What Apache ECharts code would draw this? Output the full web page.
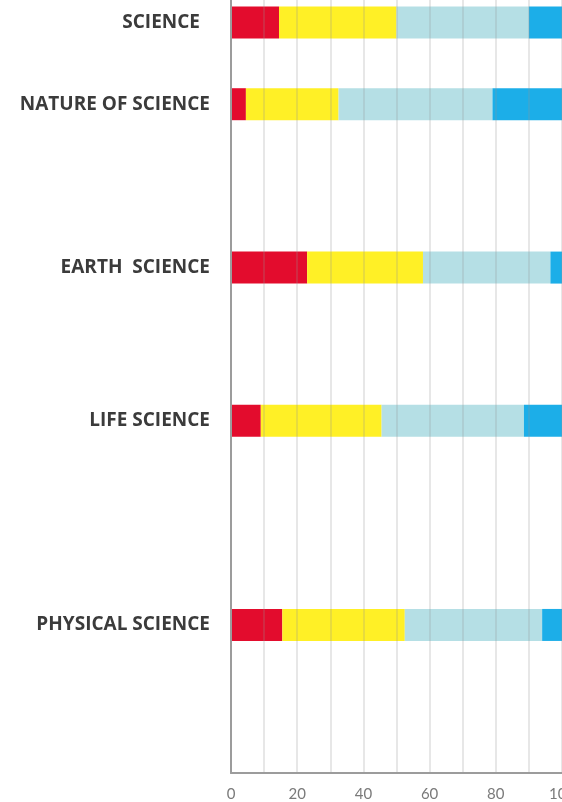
<!DOCTYPE html>
<html>
<head>
<meta charset="utf-8">
<script src="https://cdn.jsdelivr.net/npm/echarts@6/dist/echarts.min.js"></script>
<style>
  html, body { margin: 0; padding: 0; background: #ffffff; }
  #chart { width: 562px; height: 802px; }
</style>
</head>
<body>
<div id="chart"></div>
<script>
// ---- data ----
const categories = ['SCIENCE', 'NATURE OF SCIENCE', 'EARTH  SCIENCE', 'LIFE SCIENCE', 'PHYSICAL SCIENCE'];
const redValues = [14.5, 4.5, 23, 9, 15.5];
const yellowValues = [35.5, 28, 35, 36.5, 37];
const lightBlueValues = [40, 46.5, 38.5, 43, 41.5];
const blueValues = [10, 21, 3.5, 11.5, 6];
const xTickLabels = [0, 20, 40, 60, 80, 100];

// ---- layout (uneven vertical spacing of the rows) ----
const slotCount = 76;
const rowSlot = [2, 10, 26, 41, 61];

const slotNames = Array.from({ length: slotCount }, (_, i) => 's' + i);
const labelOfSlot = {};
rowSlot.forEach((s, i) => { labelOfSlot['s' + s] = categories[i]; });

function spread(values) {
  const arr = new Array(slotCount).fill(null);
  rowSlot.forEach((s, i) => { arr[s] = values[i]; });
  return arr;
}

const labelFont = { fontFamily: 'Open Sans', fontWeight: 700, fontSize: 19, color: '#3b3b3b' };

const chart = echarts.init(document.getElementById('chart'), null, { renderer: 'canvas' });

function barSeries(name, values, color) {
  return {
    name: name,
    type: 'bar',
    stack: 'total',
    data: spread(values),
    barWidth: 32,
    clip: false,
    itemStyle: { color: color },
    emphasis: { disabled: true },
    animation: false
  };
}

chart.setOption({
  animation: false,
  backgroundColor: '#ffffff',
  grid: { left: 231, right: 0, top: -3, bottom: 29, containLabel: false, outerBoundsMode: 'none' },
  xAxis: {
    type: 'value',
    min: 0,
    max: 100,
    interval: 10,
    z: 5,
    axisLine: { show: true, lineStyle: { color: '#9c9c9c', width: 2 } },
    axisTick: { show: false },
    splitLine: { show: true, lineStyle: { color: 'rgba(150,150,150,0.3)', width: 1.5 } },
    axisLabel: {
      margin: 14,
      fontFamily: 'Lato',
      fontSize: 15,
      color: '#7a7a7a',
      formatter: function (v) { return xTickLabels.indexOf(v) >= 0 ? String(v) : ''; }
    }
  },
  yAxis: {
    type: 'category',
    inverse: true,
    data: slotNames,
    z: 5,
    axisLine: { show: true, lineStyle: { color: '#9c9c9c', width: 2 } },
    axisTick: { show: false },
    splitLine: { show: false },
    axisLabel: {
      interval: 0,
      margin: 21,
      fontFamily: 'Open Sans',
      fontWeight: 700,
      fontSize: 19,
      color: '#3b3b3b',
      formatter: function (v) {
        const t = labelOfSlot[v];
        if (!t) return '';
        return t === 'SCIENCE' ? '{p|' + t + '}' : '{n|' + t + '}';
      },
      rich: {
        n: Object.assign({}, labelFont),
        p: Object.assign({ padding: [0, 10, 0, 0] }, labelFont)
      }
    }
  },
  series: [
    barSeries('Red', redValues, '#e30c2d'),
    barSeries('Yellow', yellowValues, '#fff026'),
    barSeries('Light blue', lightBlueValues, '#b5dfe5'),
    barSeries('Blue', blueValues, '#1caee8')
  ]
});
</script>
</body>
</html>
